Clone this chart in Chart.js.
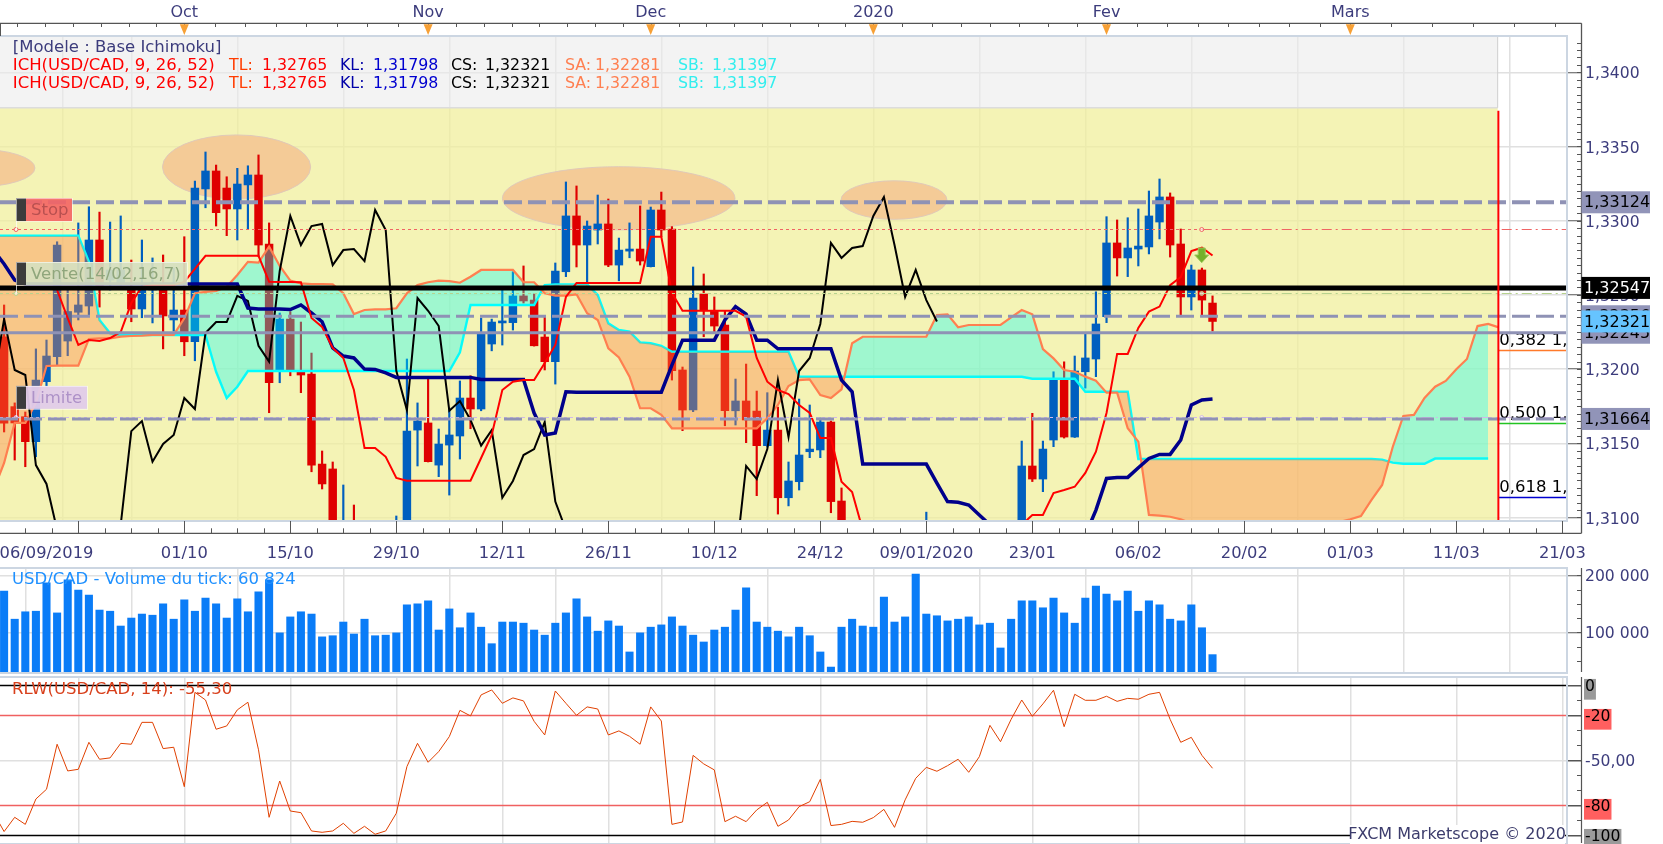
<!DOCTYPE html>
<html><head><meta charset="utf-8">
<script src="https://cdn.jsdelivr.net/npm/chart.js@4"></script>
<style>
html,body{margin:0;padding:0;background:#fff;overflow:hidden}
canvas{position:absolute;left:0}
#m{top:0}#v{top:565px}#r{top:676px}
</style></head><body>
<canvas id="m" width="1663" height="565"></canvas>
<canvas id="v" width="1663" height="111"></canvas>
<canvas id="r" width="1663" height="168"></canvas>
<script>
// ---------- values ----------
const firstBar = -17;   // bar number of the first candle; bar 0 is 01/10
const firstLineBar = -18; // the indicator lines start one bar earlier, just off the left edge
const opens = [1.32218,1.31747,1.31679,1.31511,1.31915,1.32083,1.32189,1.32383,1.32425,1.32870,1.32600,1.32580,1.32553,1.32405,1.32533,1.32566,1.32331,
1.32398,1.32184,1.33214,1.33335,1.33220,1.33079,1.33241,1.33308,1.32843,1.31994,1.32337,1.31978,1.31967,1.31360,1.31327,1.30646,1.30916,1.30700,1.30850,1.30650,1.30750,
1.30850,1.31589,1.31637,1.31353,1.31488,1.31549,1.31805,1.31731,1.32169,1.32311,1.32313,1.32493,1.32465,1.32216,1.32050,1.32656,1.33032,1.32836,1.32937,1.32978,1.32701,1.32795,1.32809,1.32690,1.33072,1.32944,
1.31994,1.31724,1.32506,1.32393,1.32297,1.31719,1.31785,1.31717,1.31484,1.31589,1.31133,1.31241,1.31443,1.31455,1.31643,1.31111,1.30900,1.30700,1.30800,1.30600,1.30700,1.30550,1.30650,1.30800,1.30900,1.30750,1.30850,1.30700,1.30800,1.30650,1.30750,1.30850,
1.30916,1.31347,1.31259,1.31522,1.31926,1.31542,1.31982,1.32068,1.32353,1.32850,1.32749,1.32809,1.32823,1.32991,1.33160,1.32843,1.32486,1.32668,1.32445];
const highs = [1.32432,1.31772,1.31711,1.32136,1.32196,1.32858,1.32533,1.32985,1.33094,1.33058,1.32991,1.33032,1.32735,1.32870,1.32749,1.32769,1.32681,
1.32892,1.33267,1.33463,1.33375,1.33296,1.33353,1.33370,1.33443,1.32985,1.32378,1.32387,1.32317,1.32108,1.31448,1.31374,1.31219,1.31084,1.30900,1.30920,1.30950,1.31010,
1.32068,1.31772,1.31940,1.31596,1.31738,1.31920,1.31955,1.32344,1.32337,1.32533,1.32656,1.32695,1.32506,1.32351,1.32715,1.33261,1.33234,1.32998,1.33173,1.33146,1.32883,1.32985,1.33099,1.33092,1.33193,1.32960,
1.32014,1.32688,1.32641,1.32486,1.32393,1.31933,1.32034,1.31852,1.31841,1.31744,1.31374,1.31798,1.31758,1.31670,1.31650,1.31199,1.30960,1.30900,1.30880,1.30800,1.30780,1.30750,1.30900,1.31036,1.30950,1.30950,1.30900,1.30900,1.30850,1.30850,1.30950,1.30900,
1.31515,1.31702,1.31515,1.31982,1.32049,1.32088,1.32243,1.32521,1.33027,1.33005,1.33020,1.33079,1.33200,1.33281,1.33187,1.32944,1.32701,1.32681,1.32493];
const lows = [1.31576,1.31387,1.31342,1.31409,1.31881,1.32027,1.32090,1.32331,1.32364,1.32418,1.32533,1.32566,1.32319,1.32346,1.32311,1.32136,1.32256,
1.32090,1.32056,1.33087,1.32964,1.32899,1.32870,1.32942,1.32757,1.31706,1.31908,1.31955,1.31841,1.31308,1.31192,1.30848,1.30600,1.30650,1.30600,1.30580,1.30600,1.30700,
1.30800,1.31347,1.31374,1.31275,1.31151,1.31394,1.31598,1.31719,1.32123,1.32162,1.32263,1.32445,1.32155,1.31994,1.31899,1.32623,1.32688,1.32566,1.32843,1.32690,1.32595,1.32750,1.32701,1.32688,1.32892,1.31926,
1.31585,1.31713,1.32218,1.32252,1.31618,1.31623,1.31504,1.31147,1.31475,1.31023,1.31078,1.31185,1.31403,1.31403,1.31032,1.30815,1.30650,1.30600,1.30550,1.30500,1.30500,1.30500,1.30600,1.30750,1.30700,1.30700,1.30650,1.30650,1.30600,1.30600,1.30700,1.30650,
1.30850,1.31242,1.31174,1.31477,1.31535,1.31539,1.31872,1.31949,1.32313,1.32627,1.32623,1.32695,1.32776,1.32877,1.32755,1.32358,1.32398,1.32364,1.32256];
const closes = [1.31635,1.31637,1.31511,1.31926,1.32088,1.32836,1.32388,1.32432,1.32870,1.32553,1.32668,1.32668,1.32405,1.32533,1.32580,1.32358,1.32398,
1.32184,1.33220,1.33335,1.33054,1.33079,1.33247,1.33308,1.32836,1.31908,1.32337,1.31994,1.31960,1.31353,1.31226,1.30916,1.30882,1.30713,1.30800,1.30650,1.30830,1.30950,
1.31582,1.31650,1.31376,1.31495,1.31556,1.31805,1.31731,1.32243,1.32317,1.32317,1.32493,1.32459,1.32157,1.32050,1.32661,1.33032,1.32836,1.32964,1.32978,1.32701,1.32802,1.32809,1.32728,1.33072,1.32937,1.31989,
1.31724,1.32479,1.32393,1.32290,1.31719,1.31785,1.31657,1.31484,1.31589,1.31133,1.31246,1.31421,1.31461,1.31643,1.31107,1.30916,1.30700,1.30800,1.30600,1.30700,1.30550,1.30650,1.30800,1.30900,1.30750,1.30850,1.30700,1.30800,1.30650,1.30750,1.30850,1.30700,
1.31347,1.31259,1.31461,1.31926,1.31542,1.31987,1.32075,1.32304,1.32850,1.32749,1.32816,1.32829,1.33032,1.33160,1.32836,1.32486,1.32668,1.32465,1.32321];
const tenkan = [null,null,null,null,null,null,1.32533,1.32344,1.32163,1.32196,1.32189,1.32209,1.32250,1.32445,1.32553,1.32566,1.32566,1.32566,
1.32587,1.32675,1.32763,1.32763,1.32763,1.32763,1.32763,1.32763,1.32589,1.32587,1.32587,1.32585,1.32344,1.32284,1.32142,1.32075,1.31859,1.31468,1.31468,1.31409,1.31266,
1.31248,1.31248,1.31248,1.31248,1.31248,1.31248,1.31248,1.31401,1.31556,1.31859,1.31915,1.31926,1.31926,1.32041,1.32163,1.32486,1.32580,1.32580,1.32580,1.32580,1.32580,1.32580,1.32580,1.32892,1.32892,1.32513,
1.32393,1.32393,1.32393,1.32393,1.32393,1.32393,1.32353,1.32075,1.31915,1.31859,1.31832,1.31758,1.31704,1.31535,1.31535,1.31241,1.31172,1.30916,1.30850,1.30800,1.30750,1.30700,1.30700,1.30700,1.30700,1.30700,1.30700,1.30700,1.30700,1.30750,1.30800,1.30850,
1.30950,1.31017,1.31017,1.31165,1.31185,1.31207,1.31300,1.31443,1.31704,1.32102,1.32102,1.32277,1.32387,1.32421,1.32566,1.32620,1.32795,1.32818,1.32765];
const kijun = [1.32802,1.32708,1.32600,1.32573,1.32573,1.32573,1.32573,1.32573,1.32573,1.32573,1.32573,1.32573,1.32573,1.32573,1.32573,1.32573,1.32573,1.32573,
1.32573,1.32573,1.32573,1.32573,1.32573,1.32573,1.32411,1.32405,1.32405,1.32405,1.32401,1.32432,1.32378,1.32319,1.32142,1.32088,1.32075,1.32000,1.31998,1.31975,1.31944,
1.31944,1.31944,1.31944,1.31944,1.31944,1.31944,1.31944,1.31930,1.31930,1.31930,1.31930,1.31930,1.31704,1.31556,1.31569,1.31847,1.31844,1.31844,1.31844,1.31844,1.31844,1.31844,1.31844,1.31844,1.31844,1.32027,
1.32195,1.32195,1.32195,1.32195,1.32331,1.32421,1.32371,1.32195,1.32195,1.32137,1.32137,1.32137,1.32137,1.32137,1.32137,1.31926,1.31847,1.31360,1.31360,1.31360,1.31360,1.31360,1.31360,1.31360,1.31232,1.31107,1.31103,1.31084,1.31017,1.30950,1.30916,1.30916,
1.30916,1.30800,1.30800,1.30800,1.30800,1.30800,1.30880,1.31050,1.31263,1.31270,1.31270,1.31335,1.31398,1.31425,1.31425,1.31522,1.31758,1.31792,1.31798];
const chikou = [1.31908,1.32337,1.31994,1.31960,1.31353,1.31226,1.30916,1.30882,1.30713,1.30800,1.30650,1.30830,1.30950,1.31582,1.31650,1.31376,1.31495,1.31556,
1.31805,1.31731,1.32243,1.32317,1.32317,1.32493,1.32459,1.32157,1.32050,1.32661,1.33032,1.32836,1.32964,1.32978,1.32701,1.32802,1.32809,1.32728,1.33072,1.32937,1.31989,
1.31724,1.32479,1.32393,1.32290,1.31719,1.31785,1.31657,1.31484,1.31589,1.31133,1.31246,1.31421,1.31461,1.31643,1.31107,1.30916,1.30700,1.30800,1.30600,1.30700,1.30550,1.30650,1.30800,1.30900,1.30750,1.30850,
1.30700,1.30800,1.30650,1.30750,1.30850,1.30700,1.31347,1.31259,1.31461,1.31926,1.31542,1.31987,1.32075,1.32304,1.32850,1.32749,1.32816,1.32829,1.33032,1.33160,1.32836,1.32486,1.32668,1.32465,1.32321];
const senkouA = [1.31185,1.31367,1.31637,1.31637,1.31772,1.32021,1.32023,1.32023,1.32023,1.32203,1.32207,1.32207,1.32218,1.32223,1.32225,1.32230,1.32230,1.32230,
1.32342,1.32511,1.32520,1.32526,1.32555,1.32634,1.32723,1.32717,1.32825,1.32695,1.32596,1.32578,1.32573,1.32573,1.32571,1.32511,1.32371,1.32398,1.32403,1.32403,1.32410,
1.32511,1.32566,1.32585,1.32596,1.32593,1.32582,1.32622,1.32668,1.32668,1.32668,1.32668,1.32585,1.32585,1.32511,1.32495,1.32495,1.32504,1.32376,1.32331,1.32140,1.32079,1.31949,1.31736,1.31736,1.31691,1.31601,
1.31601,1.31601,1.31601,1.31601,1.31601,1.31601,1.31601,1.31601,1.31668,1.31758,1.31886,1.31926,1.31931,1.31825,1.31805,1.31864,1.32174,1.32218,1.32218,1.32218,1.32218,1.32218,1.32218,1.32218,1.32364,1.32369,1.32282,1.32297,1.32297,1.32297,1.32297,1.32349,1.32398,
1.32369,1.32135,1.32072,1.31994,1.31982,1.31949,1.31922,1.31841,1.31841,1.31601,1.31511,1.31017,1.31012,1.31005,1.30988,1.30960,1.30940,1.30920,1.30900,1.30900,1.30900,1.30900,1.30900,1.30900,1.30900,1.30900,1.30920,1.30940,1.30950,1.30970,
1.30988,1.31010,1.31118,1.31219,1.31475,1.31684,1.31691,1.31805,1.31881,1.31920,1.31999,1.32068,1.32290,1.32304,1.32281];
const senkouB = [1.32899,1.32899,1.32899,1.32899,1.32899,1.32899,1.32899,1.32899,1.32899,1.32723,1.32331,1.32241,1.32230,1.32230,1.32230,1.32230,1.32230,1.32230,1.32230,1.32230,1.32230,
1.31982,1.31805,1.31881,1.31987,1.31987,1.31987,1.31987,1.31987,1.31987,1.31987,1.31987,1.31987,1.31987,1.31987,1.31987,1.31987,1.31987,1.31987,1.31987,1.31987,1.31987,1.31987,1.31987,
1.32113,1.32432,1.32432,1.32432,1.32432,1.32432,1.32432,1.32432,1.32566,1.32571,1.32571,1.32571,1.32571,1.32499,1.32308,1.32263,1.32252,1.32180,1.32174,1.32157,
1.32117,1.32117,1.32117,1.32117,1.32117,1.32117,1.32117,1.32117,1.32117,1.32117,1.32117,1.32117,
1.31948,1.31948,1.31948,1.31948,1.31948,1.31948,1.31948,1.31948,1.31948,1.31948,1.31948,1.31948,1.31948,1.31948,1.31948,1.31948,1.31948,1.31948,1.31948,1.31948,1.31948,1.31948,
1.31935,1.31935,1.31935,1.31935,1.31935,1.31847,1.31847,1.31847,1.31847,1.31847,
1.31394,1.31394,1.31394,1.31394,1.31394,1.31394,1.31394,1.31394,1.31394,1.31394,1.31394,1.31394,1.31394,1.31394,1.31394,1.31394,1.31394,1.31394,1.31394,1.31394,1.31394,1.31394,1.31394,
1.31390,1.31370,1.31362,1.31362,1.31362,1.31397,1.31397,1.31397,1.31397,1.31397,1.31397];
const volumes = [172500,123000,136000,137000,187000,134000,192000,174000,165500,139000,137000,111000,125000,132000,130000,150000,123000,157000,137000,160000,150000,125000,158500,136000,171000,192000,99000,127000,136000,132000,92000,94000,118000,97000,123000,94000,95000,99000,148000,150000,155000,104000,141000,108000,134000,109000,80000,118000,118000,116000,104000,95000,116000,134000,158500,127000,102000,120000,111000,65500,99000,109000,113000,127000,111000,95000,83000,104000,109000,139000,178000,118000,109000,102000,92000,109000,94000,65500,39000,
109000,123000,111000,109000,162000,118000,127000,202000,132000,129000,120000,123000,127000,113000,116000,72500,123000,155000,155000,143000,160000,134000,116000,160000,181000,167000,155000,172500,137000,155000,148000,123000,120000,148000,108000,60824];
const rlw = [-85,-97.5,-88,-92.7,-75.8,-69.3,-39.3,-57.1,-56,-38,-49.3,-48.4,-38.7,-39.3,-24.7,-24.7,-42.2,-41.3,-67.6,-4.7,-9.8,-29.3,-27.1,-16.4,-11.3,-43,-88,-63.8,-83.8,-84.9,-97.1,-98,-97.1,-92,-98.7,-94,-99.3,-97.1,-85.3,-54.2,-38.7,-51.3,-44.2,-34.2,-16.7,-20.4,-6.4,-3.1,-12,-8.4,-10.4,-24,-33.1,-3.8,-12,-20,-14.4,-15.8,-33.1,-30.4,-34,-39.3,-14.4,-23.8,-92.7,-91.1,-46.7,-52.4,-56.4,-90.9,-87.3,-90.9,-83.1,-78,-94,-89.8,-80.9,-77.6,-62.7,-93.5,
-92.7,-90.7,-91.3,-88.2,-82.7,-94.7,-76.4,-62,-54.7,-57.3,-53.6,-49.3,-58,-47.6,-26.7,-37.6,-22.7,-9.8,-20.7,-12.4,-3.3,-27.6,-6,-10,-10,-7.3,-10.7,-8.7,-9.3,-6,-4.7,-22.7,-38,-34.7,-46.7,-55.3];
// tick labels
const dateTickBars = [-13,-10,0,10,20,30,40,50,60,70,80,90,100,110,120,130];
const dateTickLabels = ['06/09/2019','','01/10','15/10','29/10','12/11','26/11','10/12','24/12','09/01/2020','23/01','06/02','20/02','01/03','11/03','21/03'];
const monthTickBars = [0,23,44,65,87,110];
const monthTickLabels = ['Oct','Nov','Dec','2020','Fev','Mars'];
const priceTicks = [1.34,1.335,1.33,1.325,1.32,1.315,1.31];
const volumeTicks = [200000,100000];
const rlwTicks = [0,-20,-50,-80,-100];
// horizontal levels drawn on the price panel
const thickLevels = [1.33124,1.32356,1.32245,1.31664,1.32547];
const thinLevels = [1.32942,1.32511,1.31677];
const sideBoxLevels = [1.33124,1.32356,1.32245,1.31664,1.32547,1.32321];
const sideBoxLabels = ['1,33124','1,32356','1,32245','1,31664','1,32547','1,32321'];
const fibPrices = [1.32127,1.31637,1.31136];
const fibLabels = ['0,382 1,','0,500 1,','0,618 1,'];
// highlighted ellipses: centre bar, half width in bars, centre price, half height in price
const ellipseBars = [-19.75,4.93,40.98,66.95];
const ellipseBarRadii = [5.66,6.99,10.97,5];
const ellipsePrices = [1.33355,1.33362,1.33151,1.33139];
const ellipsePriceRadii = [0.00128,0.00216,0.00213,0.0013];
const orderNames = ['Stop','Vente(14/02,16,7)','Limite'];
const orderPrices = [1.33075,1.32644,1.31809];
const orderLinePrices = [1.32942,1.32511,1.31677];
const projectionEndBar = 123.9;
const forecastTopPrice = 1.33761;
const signalBar = 95.98;
const signalPriceTop = 1.32816, signalPriceBottom = 1.32717;

// ---------- helpers ----------
const FONT = '16.5px "DejaVu Sans"', NUMFONT = '15.8px "DejaVu Sans"', FOOTFONT = '16px "DejaVu Sans"';
const AXIS_TXT = '#3c3c7c', AXIS_LINE = '#555', GRID = '#e0e0e0', FRAME = '#ccd6e2';
const PLOT_RIGHT_PAD = 96, AXIS_X = 1581.5;
const xMin = -17.387, xMax = 130.44;
const BLUE='#005fbf', RED='#df0000';
const pts = (arr, start=firstBar) => arr.map((v,i)=>({x:start+i,y:v}));
const noPad = s => {s.paddingLeft=0;s.paddingRight=0;s.paddingTop=0;s.paddingBottom=0;};
// axis labels of the source sit two pixels under their tick
const nudgeLabels = s => { if(s.__n||!s._computeLabelItems) return; s.__n=true; const o=s._computeLabelItems;
  s._computeLabelItems=function(a){const it=o.call(this,a);it.forEach(t=>{t.options.translation[1]+=2;if(t.options.backdrop)t.options.backdrop.top+=2;});return it;};};
const xBase = (extra) => Object.assign({type:'linear',min:xMin,max:xMax,offset:false,border:{display:false},
  afterBuildTicks:s=>{s.ticks=dateTickBars.filter(b=>b%10===0).map(v=>({value:v}));},
  grid:{color:GRID,lineWidth:1.5,drawTicks:false},
  ticks:{display:false},afterFit:s=>{s.height=0;noPad(s);}},extra||{});
const yBase = (ticks,min,max,cb,extra) => Object.assign({position:'right',min,max,border:{display:false},
  beforeUpdate:nudgeLabels,
  afterBuildTicks:s=>{s.ticks=ticks.map(v=>({value:v}));},
  afterFit:s=>{s.width=PLOT_RIGHT_PAD;noPad(s);},
  grid:{color:GRID,lineWidth:1.5,tickLength:14,tickColor:AXIS_LINE,tickWidth:1},
  ticks:{autoSkip:false,padding:4,color:AXIS_TXT,font:{family:'DejaVu Sans',size:15.6},callback:cb}},extra||{});
function line(c,x1,y1,x2,y2,col,w,dash){c.save();c.beginPath();c.strokeStyle=col;c.lineWidth=w;c.setLineDash(dash||[]);c.moveTo(x1,y1);c.lineTo(x2,y2);c.stroke();c.restore();}
function text(c,s,x,y,col,align,font){c.save();c.font=font||FONT;c.fillStyle=col;c.textAlign=align||'left';c.textBaseline='middle';c.fillText(s,x,y);c.restore();}
function frame(chart){const c=chart.ctx,a=chart.chartArea;c.save();c.strokeStyle=FRAME;c.lineWidth=2;c.strokeRect(a.left-2,a.top,a.right-a.left+2,a.bottom-a.top+1);c.restore();}
function axisMarks(chart,id,step){const c=chart.ctx,a=chart.chartArea,s=chart.scales[id];
  line(c,AXIS_X,a.top,AXIS_X,a.bottom,AXIS_LINE,1.2);
  for(let v=Math.ceil(s.min/step)*step;v<=s.max;v+=step){const y=Math.round(s.getPixelForValue(v))+.5;line(c,AXIS_X-4.5,y,AXIS_X,y,AXIS_LINE,1);}
}

// ---------- price panel decorations ----------
const under = {id:'under',beforeDatasetsDraw(ch){
  const c=ch.ctx,a=ch.chartArea,x=ch.scales.x,y=ch.scales.y,xe=x.getPixelForValue(projectionEndBar),yt=y.getPixelForValue(forecastTopPrice);
  c.save();
  c.fillStyle='rgba(235,235,235,.6)';c.fillRect(a.left,a.top,xe-a.left,yt-a.top);
  c.fillStyle='rgba(240,239,156,.75)';c.fillRect(a.left,yt,xe-a.left,a.bottom-yt);
  line(c,a.left,yt,xe,yt,'#dcdcdc',1.5);
  line(c,xe,a.top,xe,yt,'#cfcfcf',1);
  c.beginPath();c.rect(a.left,a.top,a.right-a.left,a.bottom-a.top);c.clip();
  ellipseBars.forEach((b,i)=>{
    const cx=x.getPixelForValue(b),rx=x.getPixelForValue(b+ellipseBarRadii[i])-cx,cy=y.getPixelForValue(ellipsePrices[i]),ry=y.getPixelForValue(ellipsePrices[i]-ellipsePriceRadii[i])-cy;
    c.beginPath();c.ellipse(cx,cy,rx,ry,0,0,Math.PI*2);c.fillStyle='#f4cb97';c.fill();c.strokeStyle='rgba(222,200,185,.95)';c.lineWidth=1;c.stroke();
  });
  c.restore();
}};
const thickStyles = [{col:'#8f92b5',w:4,dash:[18,6]},{col:'#8f92b5',w:3,dash:[18,6]},{col:'#8f92b5',w:3,dash:[]},{col:'#8f92b5',w:3,dash:[18,6]},{col:'#000',w:5,dash:[]}];
const thinColors = ['#f06464','#b6d28e','#d2b8ea'];
const boxStyles = [{bg:'#9194b8',fg:'#000'},{bg:'#9194b8',fg:'#000'},{bg:'#9194b8',fg:'#000'},{bg:'#9194b8',fg:'#000'},{bg:'#000',fg:'#fff'},{bg:'#66c4ff',fg:'#000'}];
const orderStyles = [{bg:'rgba(244,100,100,.9)',fg:'#b85050',w:56},{bg:'rgba(214,224,192,.92)',fg:'#8fa67c',w:171},{bg:'rgba(226,204,234,.95)',fg:'#ae92c8',w:71}];
const over = {id:'over',afterDatasetsDraw(ch){
  const c=ch.ctx,a=ch.chartArea,x=ch.scales.x,y=ch.scales.y,sx=x.getPixelForValue(signalBar),xe=x.getPixelForValue(projectionEndBar)+.7;
  // thin order levels
  thinLevels.forEach((p,i)=>{const py=Math.round(y.getPixelForValue(p))+.5;
    line(c,a.left,py,sx,py,thinColors[i],1,[3,3]);
    line(c,sx,py,a.right,py,thinColors[i],1,[10,4,2,4]);
    [a.left+16,sx].forEach(px=>{c.save();c.beginPath();c.arc(px,py,2,0,Math.PI*2);c.strokeStyle=thinColors[i];c.fillStyle='rgba(255,255,255,.6)';c.fill();c.stroke();c.restore();});
  });
  // fib lines
  const fibCols=['#ff7a2a','#22c422','#0000d0'];
  fibPrices.forEach((p,i)=>{const py=Math.round(y.getPixelForValue(p))+.5;line(c,xe,py,a.right,py,fibCols[i],1.3);
    c.save();c.beginPath();c.rect(xe,py-26,a.right-xe,28);c.clip();text(c,fibLabels[i],xe+1,py-10,'#000');c.restore();});
  // heavy levels
  thickLevels.forEach((p,i)=>{const py=y.getPixelForValue(p),s=thickStyles[i];line(c,a.left,py,a.right,py,s.col,s.w,s.dash);});
  // order tags
  orderNames.forEach((n,i)=>{const cy=y.getPixelForValue(orderPrices[i]),lx=16,s=orderStyles[i];
    c.fillStyle=s.bg;c.fillRect(lx,cy-11.5,s.w,23);
    c.fillStyle='#3c3c3c';c.fillRect(lx,cy-11.5,10,23);
    c.strokeStyle='rgba(255,255,255,.55)';c.lineWidth=1;c.strokeRect(lx+.5,cy-11,s.w,23);
    const ly=y.getPixelForValue(orderLinePrices[i]);line(c,lx+.5,Math.min(cy+11.5,ly),lx+.5,Math.max(cy-11.5,ly),'rgba(255,255,255,.7)',1);
    text(c,n,lx+15,cy+1,s.fg);
  });
  // signal arrow
  const ay1=y.getPixelForValue(signalPriceTop),ay2=y.getPixelForValue(signalPriceBottom),ax=x.getPixelForValue(signalBar);
  c.save();c.beginPath();c.moveTo(ax-3.5,ay1);c.lineTo(ax+3.5,ay1);c.lineTo(ax+3.5,ay1+7);c.lineTo(ax+7,ay1+7);c.lineTo(ax,ay2);c.lineTo(ax-7,ay1+7);c.lineTo(ax-3.5,ay1+7);c.closePath();
  c.fillStyle='#74b02a';c.fill();c.strokeStyle='#9cc85a';c.lineWidth=1;c.stroke();c.restore();
  // projection limit line
  line(c,xe,y.getPixelForValue(forecastTopPrice)+3,xe,a.bottom,'#ff0000',2);
}};
const axesMain = {id:'axesMain',afterDraw(ch){
  const c=ch.ctx,a=ch.chartArea,x=ch.scales.x,y=ch.scales.y,xt=ch.scales.xTop;
  frame(ch);
  const top=23.3,bot=533.3;
  // right axis
  line(c,AXIS_X,top,AXIS_X,bot,AXIS_LINE,1.3);
  for(let n=Math.ceil(y.min/0.0005);n*0.0005<=y.max;n++){const py=Math.round(y.getPixelForValue(n*0.0005))+.5;line(c,AXIS_X-4.5,py,AXIS_X,py,AXIS_LINE,1);}
  // top axis
  line(c,0,top,AXIS_X,top,AXIS_LINE,1.3);
  line(c,.5,top,.5,a.top,AXIS_LINE,1);
  const tk=[];
  for(let i=0;i<monthTickBars.length-1;i++){const s=monthTickBars[i],e=monthTickBars[i+1];for(let j=0;j<8;j++)tk.push(s+(e-s)*j/8);}
  for(let v=monthTickBars[0]-2.63;v>xMin;v-=2.63)tk.push(v);
  for(let v=monthTickBars[monthTickBars.length-1];v<xMax;v+=3.87)tk.push(v);
  tk.forEach(v=>{const px=Math.round(x.getPixelForValue(v))+.5;line(c,px,top,px,top+3.7,AXIS_LINE,1);});
  monthTickBars.forEach(v=>{const px=xt.getPixelForValue(v);c.save();c.beginPath();c.moveTo(px-4.5,top+1);c.lineTo(px+4.5,top+1);c.lineTo(px,a.top-1);c.closePath();c.fillStyle='#f7a035';c.fill();c.restore();});
  // bottom axis
  line(c,0,bot,AXIS_X,bot,AXIS_LINE,1.3);
  for(let v=Math.ceil(xMin/2.5)*2.5;v<=xMax;v+=2.5){const px=Math.round(x.getPixelForValue(v))+.5;const major=v%10===0;line(c,px,major?a.bottom+1:bot-5,px,bot,AXIS_LINE,1);}
  // value boxes
  sideBoxLevels.forEach((p,i)=>{const py=y.getPixelForValue(p),s=boxStyles[i];
    c.fillStyle=s.bg;c.fillRect(AXIS_X,py-11,68.5,22);
    text(c,sideBoxLabels[i],AXIS_X+2.5,py+1,s.fg,'left',FOOTFONT);});
  // legend
  text(c,'[Modele : Base Ichimoku]',12.8,47.5,AXIS_TXT);
  [65.5,83.5].forEach(ly=>{
    text(c,'ICH(USD/CAD, 9, 26, 52)',12.8,ly,'#ff0000');
    text(c,'TL:',229,ly,'#ff3c00','left',NUMFONT);text(c,'1,32765',262,ly,'#ff0000','left',NUMFONT);
    text(c,'KL:',340,ly,'#0000a8','left',NUMFONT);text(c,'1,31798',373,ly,'#0000d0','left',NUMFONT);
    text(c,'CS:',451,ly,'#000','left',NUMFONT);text(c,'1,32321',485,ly,'#000','left',NUMFONT);
    text(c,'SA:',565,ly,'#ff7f50','left',NUMFONT);text(c,'1,32281',595,ly,'#ff7f50','left',NUMFONT);
    text(c,'SB:',678,ly,'#33eeee','left',NUMFONT);text(c,'1,31397',712,ly,'#33eeee','left',NUMFONT);
  });
}};

// ---------- price chart ----------
const bodyColor = ctx => (closes[ctx.dataIndex]<opens[ctx.dataIndex]?RED:BLUE);
new Chart(document.getElementById('m'),{
  type:'bar',
  data:{datasets:[
    {type:'line',label:'SB',data:pts(senkouB,firstLineBar),borderColor:'#00ffff',borderWidth:2.4,pointRadius:0,tension:0,fill:false,order:3},
    {type:'line',label:'SA',data:pts(senkouA,firstLineBar),borderColor:'#ff7f50',borderWidth:2.2,pointRadius:0,tension:0,order:2,
      fill:{target:0,above:'rgba(0,255,255,.35)',below:'rgba(255,128,61,.375)'}},
    {type:'line',label:'CS',data:pts(chikou,firstLineBar),borderColor:'#000',borderWidth:2,pointRadius:0,tension:0,fill:false,order:1},
    {type:'line',label:'KL',data:pts(kijun,firstLineBar),borderColor:'#00008b',borderWidth:3.5,pointRadius:0,tension:0,fill:false,order:0},
    {type:'line',label:'TL',data:pts(tenkan,firstLineBar),borderColor:'#ff0000',borderWidth:2,pointRadius:0,tension:0,fill:false,order:-1},
    {label:'wick',data:highs.map((h,i)=>({x:firstBar+i,y:[lows[i],h]})),backgroundColor:bodyColor,barThickness:1.5,grouped:false,order:11},
    {label:'body',data:opens.map((o,i)=>({x:firstBar+i,y:[o,closes[i]]})),backgroundColor:bodyColor,barThickness:7.8,minBarLength:2,grouped:false,order:10}
  ]},
  plugins:[under,over,axesMain],
  options:{responsive:false,animation:false,devicePixelRatio:1,events:[],
    layout:{autoPadding:false,padding:0},
    plugins:{legend:{display:false},tooltip:{enabled:false}},
    scales:{
      x:{type:'linear',position:'bottom',min:xMin,max:xMax,offset:false,border:{display:false},
        afterBuildTicks:s=>{s.ticks=dateTickBars.map(v=>({value:v}));},
        afterFit:s=>{s.height=45;noPad(s);},
        grid:{color:ctx=>ctx.tick&&ctx.tick.value%10===0?GRID:'rgba(0,0,0,0)',lineWidth:1.5,drawTicks:false},
        ticks:{autoSkip:false,maxRotation:0,padding:24,color:AXIS_TXT,font:{family:'DejaVu Sans',size:16.3},
          callback:v=>{const i=dateTickBars.indexOf(v);return i<0?'':dateTickLabels[i];}}},
      xTop:{type:'linear',position:'top',min:xMin,max:xMax,offset:false,border:{display:false},
        afterBuildTicks:s=>{s.ticks=monthTickBars.map(v=>({value:v}));},
        afterFit:s=>{s.height=36;noPad(s);},
        grid:{display:false,drawTicks:false},
        ticks:{autoSkip:false,maxRotation:0,padding:14,color:AXIS_TXT,font:{family:'DejaVu Sans',size:16},
          callback:v=>{const i=monthTickBars.indexOf(v);return i<0?'':monthTickLabels[i];}}},
      y:yBase(priceTicks,1.30983,1.342446,v=>v.toFixed(4).replace('.',','))
    }}
});

// ---------- volume chart ----------
new Chart(document.getElementById('v'),{
  type:'bar',
  data:{datasets:[{label:'Volume',data:pts(volumes),backgroundColor:'#0a7cf7',barThickness:7.4}]},
  plugins:[{id:'volDeco',afterDraw(ch){frame(ch);axisMarks(ch,'y',25000);
    text(ch.ctx,'USD/CAD - Volume du tick: 60 824',12,15,'#1e90ff');}}],
  options:{responsive:false,animation:false,devicePixelRatio:1,events:[],
    layout:{autoPadding:false,padding:{top:3,bottom:4,left:0,right:0}},
    plugins:{legend:{display:false},tooltip:{enabled:false}},
    scales:{x:xBase(),
      y:yBase(volumeTicks,30350,212800,v=>String(v/1000)+' 000')}
  }
});

// ---------- RLW chart ----------
const rlwLevels=[0,-20,-80,-100];
const rlwLevelColors=['#000','#f06060','#f06060','#000'];
const rlwBoxColors=new Map([[0,'#9a9a9a'],[-20,'#ff5f5f'],[-80,'#ff5f5f'],[-100,'#9a9a9a']]);
new Chart(document.getElementById('r'),{
  type:'line',
  data:{datasets:[{label:'RLW',data:pts(rlw,firstLineBar),borderColor:'#e04000',borderWidth:1,pointRadius:0,tension:0,fill:false}]},
  plugins:[{id:'rlwDeco',
    beforeDatasetsDraw(ch){const a=ch.chartArea,y=ch.scales.y;rlwLevels.forEach((v,i)=>{const py=Math.round(y.getPixelForValue(v))+.5;line(ch.ctx,a.left,py,a.right,py,rlwLevelColors[i],1.3);});},
    afterDraw(ch){const c=ch.ctx;frame(ch);axisMarks(ch,'y',10);
      text(c,'RLW(USD/CAD, 14): -55,30',12,14,'#d8401c');
      c.fillStyle='#fff';c.fillRect(1350,149,215,19);
      text(c,'FXCM Marketscope © 2020',1566,159,'#3c3c6c','right',FOOTFONT);}}],
  options:{responsive:false,animation:false,devicePixelRatio:1,events:[],
    layout:{autoPadding:false,padding:{top:1,bottom:1,left:0,right:0}},
    plugins:{legend:{display:false},tooltip:{enabled:false}},
    scales:{x:xBase(),
      y:yBase(rlwTicks,-105.13,5.53,v=>v===-50?'-50,00':String(v),{
        grid:{color:ctx=>ctx.tick&&ctx.tick.value===-50?GRID:'rgba(0,0,0,0)',lineWidth:1.5,tickLength:14,tickColor:AXIS_LINE},
        ticks:{autoSkip:false,padding:4,color:ctx=>rlwBoxColors.has(ctx.tick&&ctx.tick.value)?'#000':AXIS_TXT,font:{family:'DejaVu Sans',size:15.6},
          callback:v=>v===-50?'-50,00':String(v),
          showLabelBackdrop:ctx=>rlwBoxColors.has(ctx.tick&&ctx.tick.value),
          backdropColor:ctx=>rlwBoxColors.get(ctx.tick&&ctx.tick.value)||'rgba(0,0,0,0)',
          backdropPadding:{x:1,y:1}}})}
  }
});
</script>
</body></html>
